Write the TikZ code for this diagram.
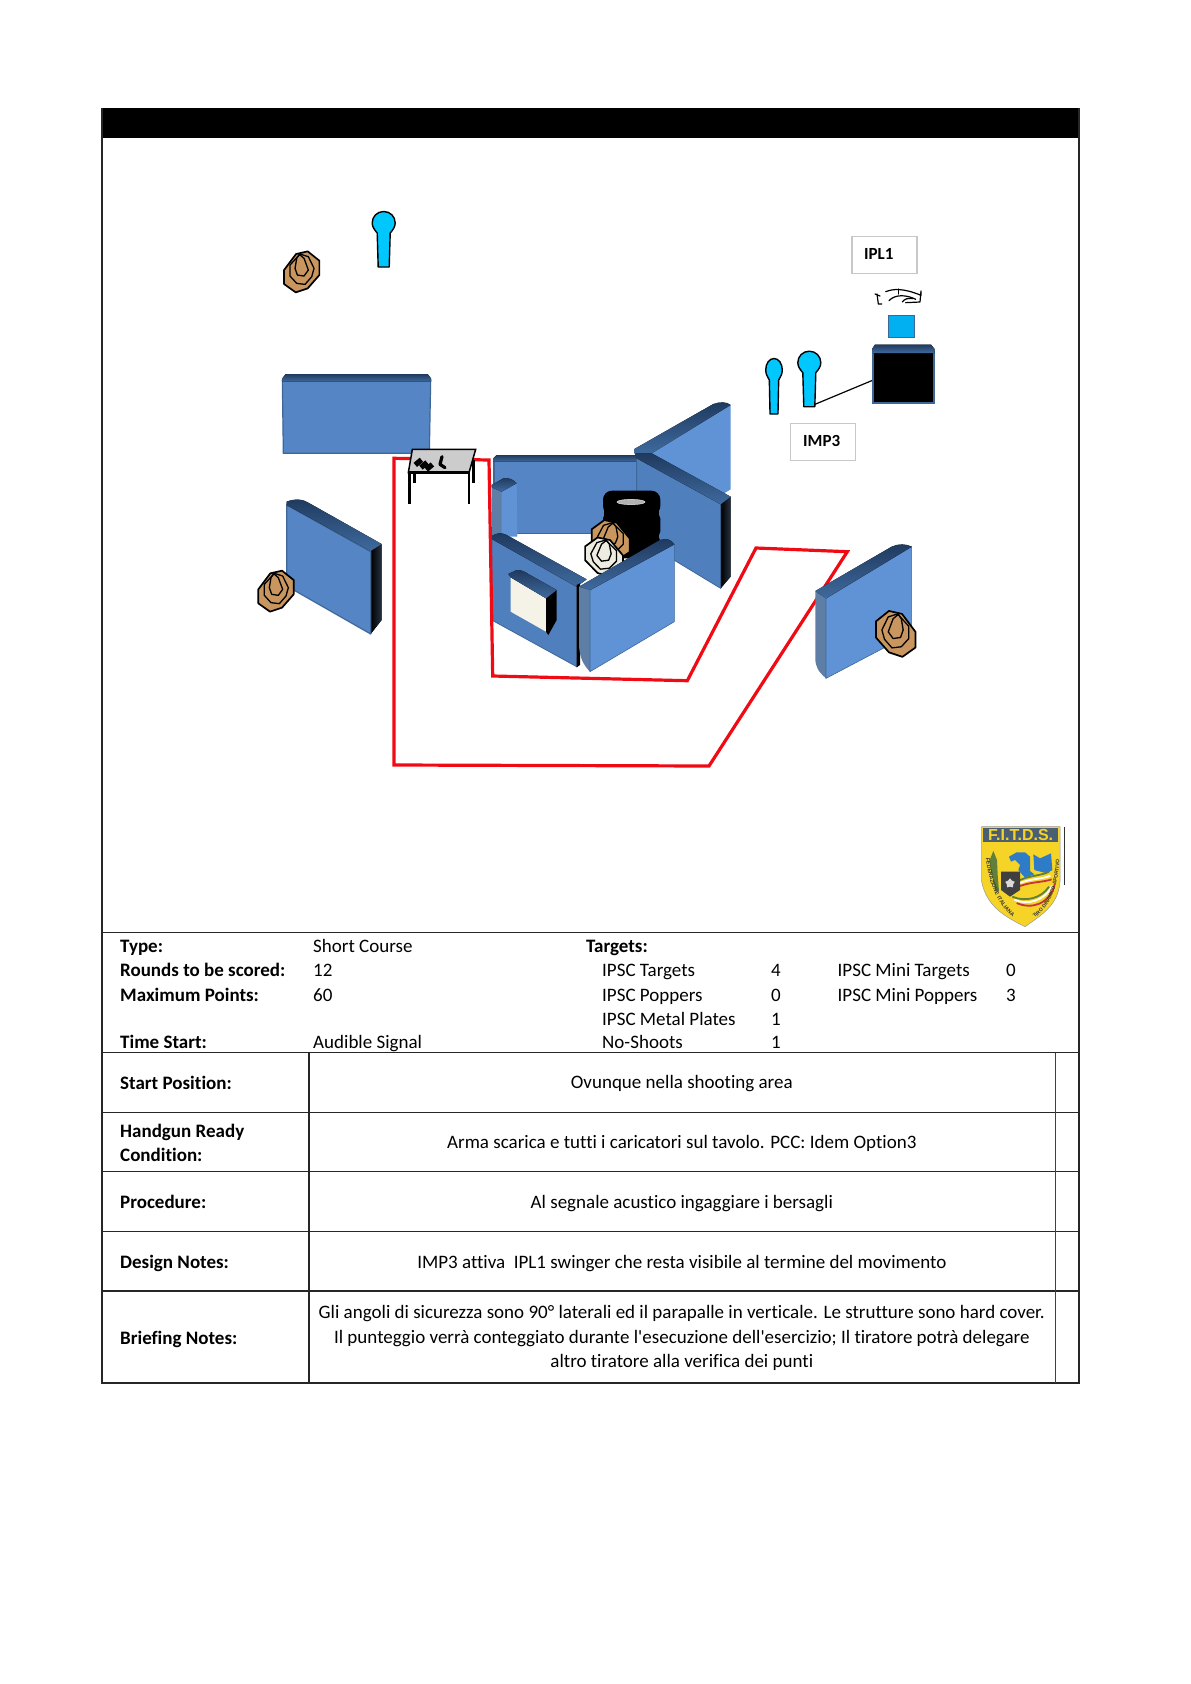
\documentclass[tikz,border=0pt]{standalone}
\usepackage{fontspec}
\newfontfamily\mainf{Carlito}[Ligatures=NoCommon]
\newfontfamily\logofont{Liberation Sans}
\usetikzlibrary{shapes.geometric,decorations.text}
\definecolor{faceA}{HTML}{5585C5}
\definecolor{faceB}{HTML}{5F93D6}
\definecolor{faceC}{HTML}{4F7FBD}
\definecolor{edgeC}{HTML}{3E6797}
\definecolor{topA}{HTML}{1F3A5F}
\definecolor{topB}{HTML}{3F6A9E}
\definecolor{sideC}{HTML}{5F7EA6}
\definecolor{tanC}{HTML}{C9965F}
\definecolor{nsC}{HTML}{EEECE1}
\definecolor{popC}{HTML}{00C8FF}
\definecolor{sqC}{HTML}{00B0F0}
\definecolor{plateC}{HTML}{F5F3E8}
\definecolor{boxC}{HTML}{C8C8C8}
\definecolor{redC}{HTML}{F00A14}
\definecolor{logoY}{HTML}{F5D327}
\definecolor{logoB}{HTML}{4B5F73}
\definecolor{logoE}{HTML}{2E7CC8}
\definecolor{logoG}{HTML}{5F7F3A}
\definecolor{logoR}{HTML}{C8323C}
\tikzset{
 x=1pt,y=-1pt,
 zA/.style={shift={(240,190)},scale=1/3},
 zC/.style={shift={(480,390)},scale=1/3},
 zD/.style={shift={(240,480)},scale=1/3},
 zE/.style={shift={(790,530)},scale=1/3},
 zF/.style={shift={(975,815)},scale=1/3},
 zG/.style={shift={(395,440)},scale=1/3},
 zH/.style={shift={(865,280)},scale=1/3},
 face/.style={fill=faceA,draw=edgeC,line width=1.2pt,line join=round},
 facelight/.style={fill=faceB,draw=none},
 facedark/.style={fill=faceC,draw=edgeC,line width=.8pt},
 topbar/.style={top color=topA,bottom color=topB,draw=none},
 blackside/.style={left color=black,right color=black!60!sideC,draw=none},
 greyside/.style={fill=sideC,draw=none},
 txt/.style={anchor=base west,font=\mainf\fontsize{19}{22}\selectfont,inner sep=0pt},
 txtb/.style={txt,font=\mainf\fontsize{19}{22}\selectfont\bfseries},
 txtc/.style={txt,anchor=base},
 rule/.style={line width=1.2pt,black!85},
 labelbox/.style={draw=boxC,line width=1.3pt,fill=white},
 lbl/.style={font=\mainf\fontsize{17}{18}\selectfont\bfseries,inner sep=0pt},
}
\newcommand{\shootT}[4]{%
 \begin{scope}[shift={(#1,#2)},#3,scale=1/3]
  \draw[fill=#4,line width=1.7pt,line join=round] (-17,-53)--(18,-61)--(53,-33)--(53,10)--(18,50)--(-18,62)--(-53,37)--(-53,-5)--cycle;
  \draw[line width=1.3pt,line join=round] (-5,-53)--(20,-45)--(37,-10)--(30,15)--(10,38)--(-15,35)--(-35,13)--(-35,-20)--cycle;
  \draw[line width=1.3pt,line join=round] (-7,-52)--(7,-40)--(20,-5)--(7,13)--(-13,10)--(-20,-10)--(-15,-40)--cycle;
 \end{scope}}
\newcommand{\popperP}[3]{%
 \begin{scope}[shift={(#1,#2)},xscale=#3]
  \draw[fill=popC,line width=1.4pt,line join=round] (-6.5,10)--(-5.5,44)--(5.5,44)--(6.5,10)
   .. controls (9,7) and (11.5,4) .. (11.5,0) .. controls (11.5,-6.5) and (6.5,-11.5) .. (0,-11.5)
   .. controls (-6.5,-11.5) and (-11.5,-6.5) .. (-11.5,0) .. controls (-11.5,4) and (-9,7) .. cycle;
 \end{scope}}
\begin{document}
\begin{tikzpicture}
\useasboundingbox[fill=white] (0,0) rectangle (1191,1684);

% ---- frame
\fill[black] (101.5,108) rectangle (1079,138);
\draw[rule] (102,108) -- (102,1383) -- (1079,1383) -- (1079,108);
\draw[rule] (102,932.5) -- (1079,932.5);
\foreach \yy in {1052.7,1112.3,1171.7,1231.7,1291} \draw[rule] (102,\yy) -- (1079,\yy);
\draw[rule] (309,1052.7) -- (309,1383);
\draw[line width=.9pt,black!75] (1055,1052.7) -- (1055,1383);

% ---- targets and popper, upper left
\shootT{301.7}{271.7}{}{tanC}
\popperP{383.7}{223}{1}

% ---- rear wall, upper left
\begin{scope}[zA]
 \draw[face] (130,790) -- (127,570) -- (572,570) -- (568,790) -- cycle;
 \fill[top color=topA,bottom color=topB] (127,575) -- (127,565) -- (137,552) -- (563,552) -- (573,565) -- (573,575) -- cycle;
\end{scope}

% ---- left wall
\begin{scope}[zD]
 \fill[blackside] (392,213) -- (425,192) -- (425,420) -- (392,462) -- cycle;
 \draw[face] (140,75) -- (392,215) -- (392,462) -- (140,318) -- cycle;
 \fill[topbar] (140,75) -- (140,65) .. controls (165,55) and (190,58) .. (205,68) -- (425,192) -- (392,213) -- cycle;
\end{scope}
\shootT{276}{591}{}{tanC}

% ---- centre group
\begin{scope}[zC]
 % back wall
 \draw[face] (42,208) -- (470,208) -- (470,430) -- (42,430) -- cycle;
 \fill[topbar] (40,215) -- (40,205) -- (50,195) -- (470,195) -- (470,215) -- cycle;
 % upper right wall
 \fill[facelight] (515,190) -- (752,45) -- (752,298) -- (700,330) -- (515,230) -- cycle;
 \fill[topbar] (463,177) -- (700,42) .. controls (720,35) and (740,35) .. (752,45) -- (515,190) -- (463,190) -- cycle;
 % lower right wall
 \fill[blackside] (722,342) -- (752,320) -- (752,560) -- (722,595) -- cycle;
 \draw[facedark] (470,195) -- (722,340) -- (722,595) -- (585,512) -- (470,430) -- cycle;
 \fill[topbar] (466,190) -- (515,190) -- (752,320) -- (722,343) -- (470,205) -- cycle;
 % pillar
 \fill[greyside] (35,292) -- (65,303) -- (65,440) -- (35,440) -- cycle;
 \fill[facelight] (65,303) -- (110,280) -- (112,440) -- (65,440) -- cycle;
 \fill[topbar] (35,292) -- (35,285) -- (70,265) .. controls (85,262) and (100,268) .. (110,280) -- (65,305) -- cycle;
 % floor gap below the back wall
 \fill[white] (113,433) -- (470,433) -- (470,520) -- (320,570) -- (113,450) -- cycle;
 % barrel stack
 \fill[black] (372,340) rectangle (538,500);
 \fill[black,rounded corners=9pt] (369,302) rectangle (541,375);
 \fill[black,rounded corners=5pt] (369,370) rectangle (541,440);
 \fill[black,rounded corners=5pt] (369,438) rectangle (541,505);
 \fill[black!30,draw=black!5,line width=.4pt] (453,336) ellipse [x radius=42,y radius=8];
\end{scope}
\shootT{610.7}{540}{xscale=-1.07,yscale=.98}{tanC}
\shootT{604}{557}{xscale=-1.07,yscale=.96}{nsC}
\begin{scope}[zC]
 % front left wall
 \draw[facedark] (35,445) -- (290,590) -- (290,830) -- (35,690) -- cycle;
 \fill[topbar] (35,447) -- (35,438) .. controls (50,428) and (65,428) .. (78,434) -- (320,568) -- (290,590) -- cycle;
 \fill[black] (290,585) -- (300,580) -- (300,825) -- (290,832) -- cycle;
 % plate
 \fill[plateC] (92,562) -- (198,625) -- (198,725) -- (92,665) -- cycle;
 \fill[black] (198,625) -- (230,600) -- (230,690) -- (205,735) -- (198,725) -- cycle;
 \fill[topbar] (85,552) -- (110,540) .. controls (125,540) and (135,545) .. (145,552) -- (230,600) -- (198,625) -- (92,562) -- cycle;
 % front right wall
 \fill[greyside] (297,590) -- (330,600) -- (330,845) .. controls (310,825) and (297,800) .. (297,760) -- cycle;
 \draw[fill=faceB,draw=edgeC,line width=.6pt] (330,600) -- (583,463) -- (583,695) -- (330,845) -- cycle;
 \fill[topbar] (297,590) -- (540,450) .. controls (560,443) and (575,450) .. (583,463) -- (330,600) -- cycle;
\end{scope}

% ---- shooting area
\coordinate (rA) at (394,458.3);
\coordinate (rB) at (489,460);
\coordinate (rC) at (492.7,676);
\coordinate (rD) at (687.3,680.7);
\coordinate (rE) at (756,548);
\coordinate (rF) at (847.3,551.7);
\coordinate (rG) at (709,766);
\coordinate (rH) at (394,765);
\draw[redC,line width=3.2pt,line join=miter] (rA) -- (rB) -- (rC) -- (rD) -- (rE) -- (rF) -- (rG) -- (rH) -- cycle;

% ---- table
\begin{scope}[zG]
 \draw[line width=2.6pt] (59,100) -- (59,128);
 \draw[line width=2.6pt] (236,60) -- (236,128);
 \draw[fill=black!20,line width=1.5pt,line join=miter] (52,28) -- (242,28) -- (222,98) -- (40,98) -- cycle;
 \draw[line width=2.4pt] (40,98) -- (222,98);
 \draw[line width=2.8pt] (43,98) -- (43,192);
 \draw[line width=2.8pt] (222,98) -- (222,192);
 \foreach \tx/\ty in {70/67,87/75,103/81}
  \fill[black,rotate around={40:(\tx,\ty)}] (\tx-12,\ty-8) rectangle (\tx+12,\ty+8);
 \draw[line width=3.2pt,line cap=round,line join=round] (141,50) -- (135,73) -- (150,83);
\end{scope}

% ---- right wall
\begin{scope}[zE]
 \fill[greyside] (76,183) -- (108,205) -- (108,445) .. controls (85,425) and (76,410) .. (76,385) -- cycle;
 \draw[fill=faceB,draw=edgeC,line width=.6pt] (108,205) -- (365,50) -- (365,310) -- (108,445) -- cycle;
 \fill[topbar] (76,183) -- (305,50) .. controls (325,40) and (350,42) .. (365,50) -- (108,205) -- cycle;
\end{scope}
\shootT{895.7}{633.7}{xscale=-1.12,yscale=1.12}{tanC}

% ---- metal plate group, upper right
\node[labelbox,minimum width=65pt,minimum height=36.6pt,inner sep=0pt] (iplbox) at (884.5,255) {};
\node[lbl] (ipl) at (878.7,253.5) {IPL1};
\node[labelbox,minimum width=65pt,minimum height=37.4pt,inner sep=0pt] (impbox) at (823.3,442) {};
\node[lbl] (imp) at (821.7,441) {IMP3};

\begin{scope}[zH]
 \draw[line width=1.2pt,line join=round,line cap=round] (30,42) -- (45,48) (36,42) -- (40,72) -- (50,72);
 \draw[line width=1.2pt,line join=round,line cap=round] (62,35) .. controls (85,26) and (115,24) .. (168,46) -- (168,33) -- (165,66) -- (122,68);
 \draw[line width=1.2pt,line cap=round] (100,27) -- (100,42);
 \draw[line width=1.2pt,line cap=round] (72,62) .. controls (90,42) and (125,44) .. (152,58);
 \draw[line width=1.2pt,line cap=round] (112,66) .. controls (118,56) and (130,54) .. (142,56);
\end{scope}
\draw[fill=sqC,draw=edgeC,line width=1pt] (888.7,315.3) rectangle (914.3,337.3);

\popperP{774}{370}{.72}
\popperP{809.3}{362.7}{1}
\coordinate (imB) at (815,404.3);
\coordinate (imT) at (873.3,380);
\draw[line width=1.2pt] (imB) -- (imT);

\draw[fill=black,draw=edgeC,line width=2pt] (873,352) rectangle (934,403);
\fill[topbar] (872,353) -- (872,349) -- (875,344.5) -- (931,344.5) -- (934.5,349) -- (934.5,353) -- cycle;

% ---- logo
\begin{scope}[zF]
 \draw[black!80,line width=.7pt] (268,35) -- (268,210);
 \draw[fill=logoY,draw=black!40,line width=.5pt] (20,35) -- (255,35) -- (255,200) .. controls (250,270) and (200,300) .. (150,335) .. controls (90,305) and (35,275) .. (20,200) -- cycle;
 \fill[logoB] (25,38) rectangle (250,80);
 \node[font=\logofont\bfseries\fontsize{16}{18}\selectfont,text=logoY,inner sep=0pt] (logoname) at (137,60) {F.I.T.D.S.};
 \fill[logoG] (55,108) -- (66,135) -- (68,180) -- (72,228) -- (62,228) -- (48,170) -- (44,135) -- cycle;
 \fill[logoE] (102,125) -- (125,112) -- (150,112) -- (165,125) -- (165,168) -- (178,178) -- (150,188) -- (130,165) -- (135,150) -- (120,135) -- (108,140) -- cycle;
 \fill[logoE] (175,118) -- (195,130) -- (228,115) -- (232,165) -- (215,175) -- (178,165) -- cycle;
 \draw[logoG,line width=1.8pt] (135,195) .. controls (170,180) and (200,182) .. (222,170);
 \draw[white,line width=1.8pt] (135,204) .. controls (170,190) and (205,192) .. (226,182);
 \draw[logoR,line width=1.8pt] (135,213) .. controls (170,200) and (205,202) .. (230,193);
 \draw[logoG,line width=1.8pt] (112,245) .. controls (150,262) and (200,250) .. (222,215);
 \draw[white,line width=1.8pt] (118,254) .. controls (155,272) and (210,258) .. (231,212);
 \draw[logoR,line width=1.8pt] (125,264) .. controls (170,284) and (225,268) .. (240,205);
 \fill[black!75] (78,170) -- (135,170) -- (135,225) -- (105,245) -- (78,225) -- cycle;
 \node[star,star points=5,fill=black!15,inner sep=0pt,minimum size=10pt] (logostar) at (105,205) {};
\end{scope}
\path[postaction={decorate,decoration={text along path,text align=center,text={|\logofont\fontsize{5.4}{6}\selectfont\bfseries\color{black!80}|FEDERAZIONE ITALIANA}}}] (985,848) .. controls (987,882) and (997,908) .. (1021,923);
\path[postaction={decorate,decoration={text along path,text align=center,text={|\logofont\fontsize{5}{6}\selectfont\bfseries\color{black!80}|TIRO DINAMICO SPORTIVO}}}] (1025,924) .. controls (1049,911) and (1059,893) .. (1060,848);

% ---- table of facts
\begin{scope}[shift={(0,1)}]
\node[txtb] (t1) at (120,951.7) {Type:};
\node[txt]  (t2) at (313,951.7) {Short Course};
\node[txtb] (t3) at (586,951.7) {Targets:};
\node[txtb] (t4) at (120,975.7) {Rounds to be scored:};
\node[txt]  (t5) at (313,975.7) {12};
\node[txt]  (t6) at (602,975.7) {IPSC Targets};
\node[txtc] (t7) at (776,975.7) {4};
\node[txt]  (t8) at (837.5,975.7) {IPSC Mini Targets};
\node[txtc] (t9) at (1011,975.7) {0};
\node[txtb] (t10) at (120,1000) {Maximum Points:};
\node[txt]  (t11) at (313,1000) {60};
\node[txt]  (t12) at (602,1000) {IPSC Poppers};
\node[txtc] (t13) at (776,1000) {0};
\node[txt]  (t14) at (837.5,1000) {IPSC Mini Poppers};
\node[txtc] (t15) at (1011,1000) {3};
\node[txt]  (t16) at (602,1024) {IPSC Metal Plates};
\node[txtc] (t17) at (776,1024) {1};
\node[txtb] (t18) at (120,1047.7) {Time Start:};
\node[txt]  (t19) at (313,1047.7) {Audible Signal};
\node[txt]  (t20) at (602,1047.7) {No-Shoots};
\node[txtc] (t21) at (776,1047.7) {1};

\node[txtb] (r1) at (120,1088) {Start Position:};
\node[txtc] (r1b) at (681.8,1087.7) {Ovunque nella shooting area};
\node[txtb] (r2) at (120,1136) {Handgun Ready};
\node[txtb] (r2a) at (120,1160.7) {Condition:};
\node[txtc] (r2b) at (681.8,1147.7) {Arma scarica e tutti i caricatori sul tavolo. PCC: Idem Option3};
\node[txtb] (r3) at (120,1207.3) {Procedure:};
\node[txtc] (r3b) at (681.8,1207.3) {Al segnale acustico ingaggiare i bersagli};
\node[txtb] (r4) at (120,1267) {Design Notes:};
\node[txtc] (r4b) at (681.8,1267) {IMP3 attiva\ \ IPL1 swinger che resta visibile al termine del movimento};
\node[txtb] (r5) at (120,1343.3) {Briefing Notes:};
\node[txtc] (r5a) at (681.8,1317.3) {Gli angoli di sicurezza sono 90° laterali ed il parapalle in verticale. Le strutture sono hard cover.};
\node[txtc] (r5b) at (681.8,1342.3) {Il punteggio verrà conteggiato durante l'esecuzione dell'esercizio; Il tiratore potrà delegare};
\node[txtc] (r5c) at (681.8,1366.7) {altro tiratore alla verifica dei punti};
\end{scope}
\end{tikzpicture}
\end{document}
